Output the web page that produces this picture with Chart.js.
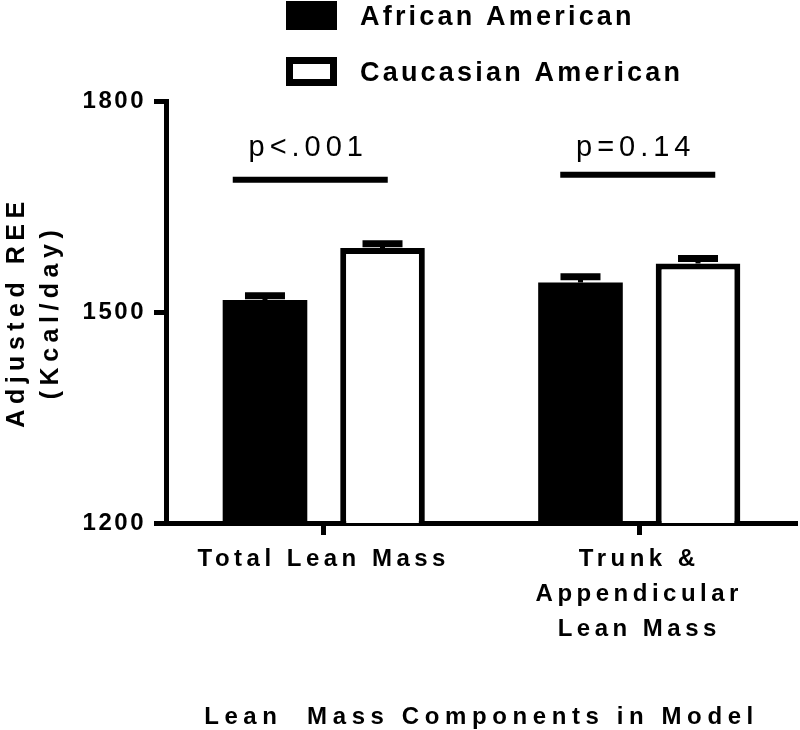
<!DOCTYPE html>
<html>
<head>
<meta charset="utf-8">
<script src="https://cdn.jsdelivr.net/npm/chart.js@4.4.0/dist/chart.umd.min.js"></script>
<style>
  html, body { margin: 0; padding: 0; background: #fff; }
</style>
</head>
<body>
<canvas id="chart" width="800" height="730"></canvas>
<script>
const categories = ['Total Lean Mass', ['Trunk &', 'Appendicular', 'Lean Mass']];
const seriesNames = ['African American', 'Caucasian American'];
const africanAmerican = [1517, 1542];
const caucasianAmerican = [1591, 1569];
const africanAmericanSem = [6, 8];
const caucasianAmericanSem = [6, 7];
const pLabels = ['p<.001', 'p=0.14'];
const pLineValues = [1688, 1695];
const pTextValues = [1722, 1722];
const yTicks = [1200, 1500, 1800];

const family = '"Liberation Sans", Arial, sans-serif';

// Prism-style wide letter spacing, set per scale on labels and title
function spaced(s, labelSp, titleSp) {
  if (s._spaced) return;
  s._spaced = true;
  const drawLabels = s.drawLabels;
  const drawTitle = s.drawTitle;
  s.drawLabels = function (area) {
    this.ctx.save();
    this.ctx.letterSpacing = labelSp;
    drawLabels.call(this, area);
    this.ctx.restore();
  };
  s.drawTitle = function () {
    this.ctx.save();
    this.ctx.letterSpacing = titleSp;
    drawTitle.call(this);
    this.ctx.restore();
  };
}

const errorBars = {
  id: 'errorBars',
  afterDatasetsDraw(chart) {
    const ctx = chart.ctx;
    const y = chart.scales.y;
    chart.data.datasets.forEach((ds, di) => {
      chart.getDatasetMeta(di).data.forEach((bar, i) => {
        const top = y.getPixelForValue(ds.data[i] + ds.errors[i]);
        ctx.save();
        ctx.strokeStyle = '#000';
        ctx.lineWidth = 5;
        ctx.beginPath();
        ctx.moveTo(bar.x, bar.y);
        ctx.lineTo(bar.x, top);
        ctx.stroke();
        ctx.lineWidth = 7;
        ctx.beginPath();
        ctx.moveTo(bar.x - 20, top);
        ctx.lineTo(bar.x + 20, top);
        ctx.stroke();
        ctx.restore();
      });
    });
  }
};

const sigLines = {
  id: 'sigLines',
  afterDraw(chart) {
    const ctx = chart.ctx;
    const {x, y} = chart.scales;
    const ends = [[-91, 64], [-79, 76]];
    pLabels.forEach((label, i) => {
      const cx = x.getPixelForValue(i);
      const ly = y.getPixelForValue(pLineValues[i]);
      ctx.save();
      ctx.strokeStyle = '#000';
      ctx.lineWidth = 6;
      ctx.beginPath();
      ctx.moveTo(cx + ends[i][0], ly);
      ctx.lineTo(cx + ends[i][1], ly);
      ctx.stroke();
      ctx.letterSpacing = '5px';
      ctx.font = '29px ' + family;
      ctx.fillStyle = '#000';
      ctx.textAlign = 'center';
      ctx.textBaseline = 'alphabetic';
      ctx.fillText(label, cx + (ends[i][0] + ends[i][1]) / 2 - 2, y.getPixelForValue(pTextValues[i]));
      ctx.restore();
    });
  }
};

const legendBoxes = {
  id: 'legendBoxes',
  afterDraw(chart) {
    const ctx = chart.ctx;
    const rows = [1, 57];
    chart.data.datasets.forEach((ds, i) => {
      const top = rows[i];
      ctx.save();
      ctx.fillStyle = '#000';
      ctx.fillRect(286, top, 51, 29);
      if (ds.borderWidth) {
        ctx.fillStyle = ds.backgroundColor;
        ctx.fillRect(286 + 7, top + 7, 51 - 14, 29 - 14);
      }
      ctx.letterSpacing = '3.2px';
      ctx.font = 'bold 27px ' + family;
      ctx.fillStyle = '#000';
      ctx.textAlign = 'left';
      ctx.textBaseline = 'middle';
      ctx.fillText(ds.label, 360, top + 17);
      ctx.restore();
    });
  }
};

new Chart(document.getElementById('chart'), {
  type: 'bar',
  data: {
    labels: categories,
    datasets: [
      {
        label: seriesNames[0],
        data: africanAmerican,
        errors: africanAmericanSem,
        backgroundColor: '#000',
        borderWidth: 0
      },
      {
        label: seriesNames[1],
        data: caucasianAmerican,
        errors: caucasianAmericanSem,
        backgroundColor: '#fff',
        borderColor: '#000',
        borderWidth: 6
      }
    ]
  },
  options: {
    responsive: false,
    animation: false,
    barPercentage: 0.72,
    categoryPercentage: 0.745,
    layout: { padding: { top: 101, right: 3, bottom: 0, left: 0 } },
    plugins: {
      legend: { display: false },
      tooltip: { enabled: false }
    },
    scales: {
      x: {
        afterFit: s => { s.height = 207; spaced(s, '4.5px', '5.6px'); },
        border: { display: true, color: '#000', width: 5 },
        grid: { display: true, offset: false, drawOnChartArea: false, tickLength: 12, tickWidth: 5, tickColor: '#000' },
        ticks: {
          color: '#000',
          font: { family, size: 24, weight: 'bold', lineHeight: 1.46 },
          padding: 7,
          maxRotation: 0,
          autoSkip: false
        },
        title: {
          display: true,
          text: 'Lean  Mass Components in Model',
          color: '#000',
          font: { family, size: 24, weight: 'bold', lineHeight: 1 },
          padding: { top: 0, bottom: 1 }
        }
      },
      y: {
        min: 1200,
        max: 1800,
        afterBuildTicks: s => { s.ticks = yTicks.map(v => ({ value: v })); },
        afterFit: s => { s.width = 166; spaced(s, '2.5px', '5.5px'); },
        border: { display: true, color: '#000', width: 5 },
        grid: { display: true, drawOnChartArea: false, tickLength: 12, tickWidth: 5, tickColor: '#000' },
        ticks: {
          color: '#000',
          font: { family, size: 24, weight: 'bold' },
          padding: 8,
          callback: v => String(v)
        },
        title: {
          display: true,
          text: ['Adjusted REE', '(Kcal/day)'],
          color: '#000',
          font: { family, size: 25, weight: 'bold', lineHeight: 1.36 },
          padding: { top: 0, bottom: 0 }
        }
      }
    }
  },
  plugins: [errorBars, sigLines, legendBoxes]
});
</script>
</body>
</html>
